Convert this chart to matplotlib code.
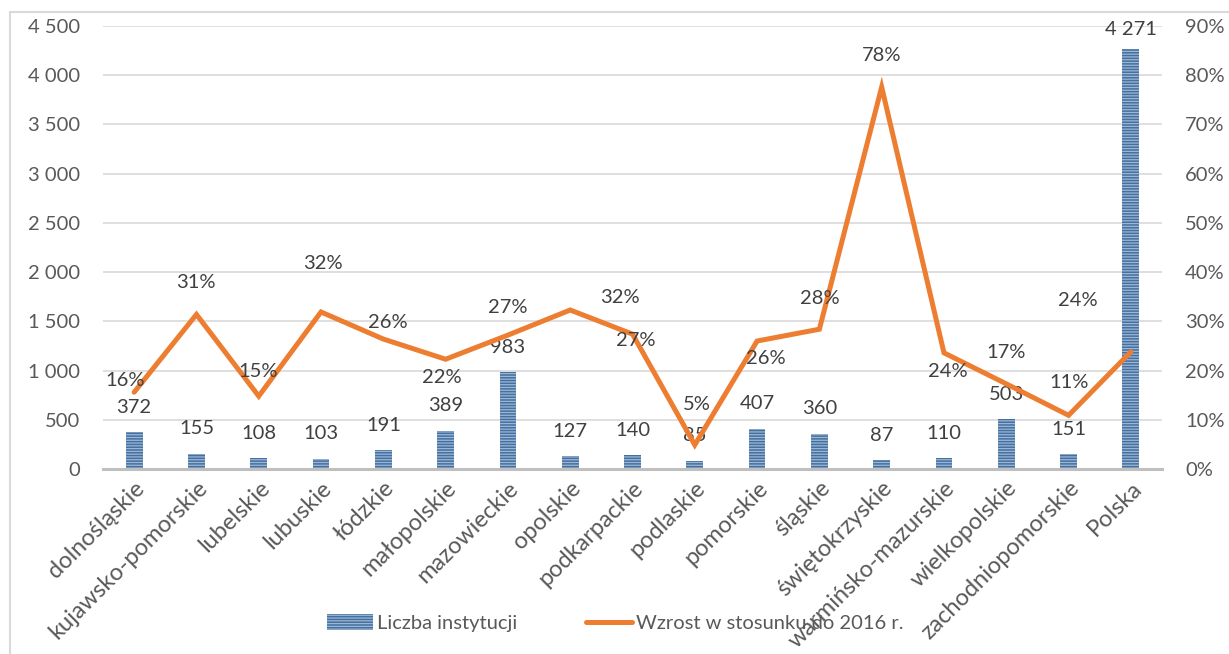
import matplotlib
matplotlib.use('Agg')
import matplotlib.pyplot as plt
from matplotlib.patches import Rectangle
from matplotlib.ticker import FuncFormatter
import numpy as np

regions = ['dolnośląskie', 'kujawsko-pomorskie', 'lubelskie', 'lubuskie', 'łódzkie',
           'małopolskie', 'mazowieckie', 'opolskie', 'podkarpackie', 'podlaskie',
           'pomorskie', 'śląskie', 'świętokrzyskie', 'warmińsko-mazurskie',
           'wielkopolskie', 'zachodniopomorskie', 'Polska']
institutions = [372, 155, 108, 103, 191, 389, 983, 127, 140, 85, 407, 360, 87, 110, 503, 151, 4271]
growth = [15.6, 31.4, 14.8, 31.9, 26.4, 22.3, 27.2, 32.3, 27.4, 4.9, 26.0, 28.4,
          77.6, 23.6, 17.3, 10.9, 23.8]

# label offsets for the percent labels (pixels), copied from the original layout
pct_offsets = [(-9, 12), (-1, 32), (-1, 25), (2, 48), (4, 17), (-4, -18), (0, 28),
               (50, 13), (3, -6), (2, 40), (9, -17), (0, 31), (0, 32), (4, -19),
               (0, 31), (0, 33), (-53, 51)]

plt.rcParams['font.family'] = ['Lato', 'DejaVu Sans']
plt.rcParams['hatch.linewidth'] = 0.9

txt = '#404040'
tick_c = '#595959'
blue = '#44709F'
orange = '#ED7D31'

fig = plt.figure(figsize=(12.29, 6.54), dpi=100)
ax = fig.add_axes([103 / 1229, 1 - 469 / 654, (1162 - 103) / 1229, (469 - 26) / 654])
ax2 = ax.twinx()

x = np.arange(len(regions))
bars = ax.bar(x, institutions, width=0.27, color=blue, edgecolor='#9DB6D6',
              linewidth=0, hatch='------', label='Liczba instytucji', zorder=2)
ax.set_xlim(-0.5, len(regions) - 0.5)
ax.set_ylim(0, 4500)
ax.set_yticks(np.arange(0, 4501, 500))
ax.yaxis.set_major_formatter(FuncFormatter(lambda v, p: f'{int(v):,}'.replace(',', ' ')))
ax.grid(axis='y', color='#D9D9D9', linewidth=1.2, zorder=0)
ax.set_axisbelow(True)
for s in ['top', 'right', 'left']:
    ax.spines[s].set_visible(False)
ax.spines['bottom'].set_color('#BFBFBF')
ax.spines['bottom'].set_linewidth(2.2)
ax.tick_params(axis='y', length=0, pad=16.5, labelsize=14.5, labelcolor=tick_c)
ax.tick_params(axis='x', length=0, pad=6)
ax.set_xticks(x)
ax.set_xticklabels(regions, rotation=45, ha='right', rotation_mode='anchor',
                   fontsize=17, color=tick_c)

for xi, v in zip(x, institutions):
    ax.annotate(f'{v:,}'.replace(',', ' '), (xi, v), xytext=(0, 25 if v < 4000 else 19),
                textcoords='offset pixels', ha='center', va='center',
                fontsize=14.5, color=txt, annotation_clip=False)

line, = ax2.plot(x, growth, color=orange, linewidth=3.6, solid_capstyle='round',
                 solid_joinstyle='miter', label='Wzrost w stosunku do 2016 r.')
ax2.set_ylim(0, 90)
ax2.set_yticks(np.arange(0, 91, 10))
ax2.yaxis.set_major_formatter(FuncFormatter(lambda v, p: f'{int(v)}%'))
for s in ax2.spines.values():
    s.set_visible(False)
ax2.tick_params(axis='y', length=0, pad=16.5, labelsize=14.5, labelcolor=tick_c)

for xi, v, (dx, dy) in zip(x, growth, pct_offsets):
    ax2.annotate(f'{v:.0f}%', (xi, v), xytext=(dx, dy), textcoords='offset pixels',
                 ha='center', va='center', fontsize=14.5, color=txt)

fig.legend(handles=[bars, line], loc='center', bbox_to_anchor=(615 / 1229, 1 - 623 / 654),
           ncol=2, frameon=False, fontsize=14.5, labelcolor=tick_c, handlelength=2.3,
           handleheight=0.8, columnspacing=3.4, handletextpad=0.2)

fig.patches.append(Rectangle((10 / 1229, -0.05), 1.1, 1 - 12 / 654 + 0.05,
                             transform=fig.transFigure, fill=False,
                             edgecolor='#D9D9D9', linewidth=1.5))

fig.savefig('out.png', dpi=100)
